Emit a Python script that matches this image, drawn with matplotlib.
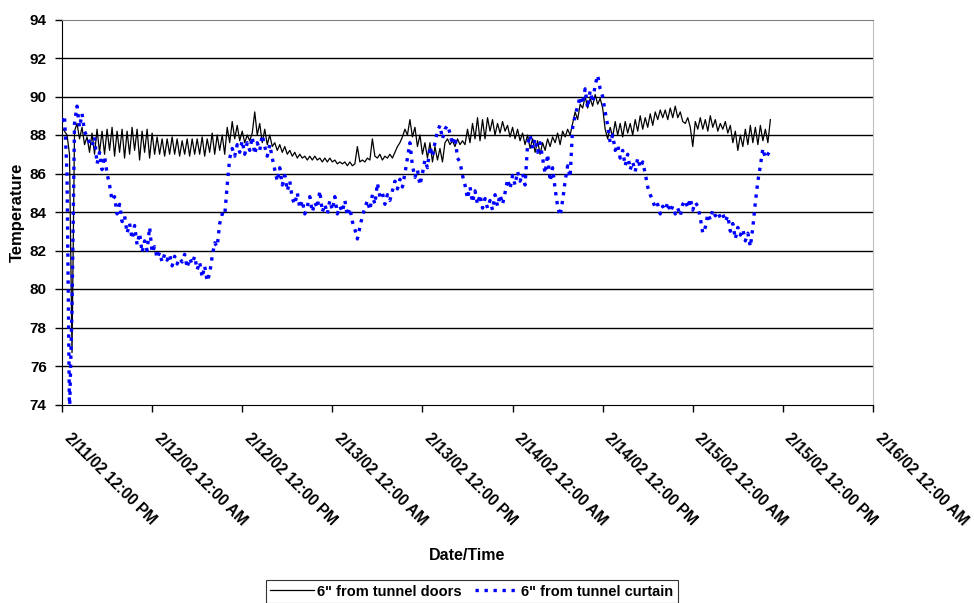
import numpy as np
import pandas as pd
import matplotlib
matplotlib.use('Agg')
import matplotlib.pyplot as plt
from matplotlib.transforms import ScaledTranslation

plt.rcParams['font.family'] = ['Liberation Sans', 'DejaVu Sans']

# readings every 20 minutes starting 2/11/02 12:00 PM (one row = one hour)
doors = [
    88.4, 88.2, 88.0,  87.0, 76.7, 88.2,  88.6, 87.8, 88.4,  87.5, 87.9, 87.1,
    88.1, 87.0, 88.3,  87.1, 88.2, 87.0,  88.3, 87.2, 88.4,  86.9, 88.2, 87.1,
    88.3, 86.8, 88.2,  87.0, 88.4, 87.2,  88.3, 86.7, 88.2,  87.1, 88.3, 86.8,
    88.1, 87.0, 87.9,  87.0, 87.8, 86.9,  87.8, 87.0, 87.9,  87.0, 87.8, 86.9,
    87.7, 87.0, 87.8,  86.9, 87.8, 87.0,  87.8, 87.0, 87.9,  86.9, 87.8, 87.1,
    88.1, 87.0, 88.0,  87.2, 88.0, 87.0,  88.4, 87.6, 88.7,  87.8, 88.5, 87.7,
    88.2, 87.6, 88.0,  87.7, 88.1, 89.2,  88.0, 88.6, 87.6,  88.3, 87.5, 88.0,
    87.4, 87.6, 87.2,  87.5, 87.1, 87.4,  87.0, 87.2, 86.9,  87.1, 86.8, 87.0,
    86.8, 86.9, 86.7,  86.9, 86.7, 86.9,  86.7, 86.8, 86.6,  86.8, 86.6, 86.8,
    86.6, 86.7, 86.5,  86.6, 86.5, 86.6,  86.4, 86.6, 86.4,  86.5, 87.4, 86.6,
    86.7, 86.6, 86.8,  86.7, 87.8, 86.9,  86.8, 87.0, 86.7,  86.9, 86.8, 87.0,
    86.8, 87.1, 87.4,  87.6, 87.9, 88.3,  88.0, 88.8, 87.9,  88.4, 87.4, 88.0,
    87.0, 87.6, 86.8,  87.6, 86.6, 87.4,  86.7, 87.3, 86.6,  87.6, 87.8, 87.5,
    87.7, 87.4, 87.8,  87.5, 87.7, 87.5,  88.3, 87.6, 88.6,  87.8, 88.9, 87.7,
    88.8, 87.8, 88.9,  88.2, 88.8, 88.0,  88.6, 88.1, 88.7,  88.2, 88.5, 87.9,
    88.4, 87.8, 88.3,  87.7, 88.1, 87.5,  88.0, 87.3, 87.8,  87.1, 87.7, 87.0,
    87.6, 87.2, 87.8,  87.4, 87.9, 87.6,  88.1, 87.5, 88.2,  87.9, 88.3, 88.0,
    88.6, 89.2, 88.8,  89.6, 89.4, 90.0,  89.4, 89.9, 89.5,  90.1, 89.6, 89.9,
    89.4, 88.3, 87.8,  88.4, 87.9, 88.7,  88.0, 88.6, 87.9,  88.7, 88.1, 88.6,
    88.0, 88.8, 88.2,  89.0, 88.3, 88.9,  88.4, 89.1, 88.5,  89.2, 88.8, 89.3,
    88.9, 89.3, 88.8,  89.4, 88.9, 89.5,  88.9, 89.2, 88.7,  88.6, 88.9, 88.4,
    87.4, 88.7, 88.3,  88.9, 88.3, 88.8,  88.2, 89.0, 88.4,  88.8, 88.2, 88.6,
    88.3, 88.7, 88.1,  88.5, 87.6, 88.2,  87.2, 88.0, 87.4,  88.3, 87.5, 88.5,
    87.6, 88.4, 87.5,  88.5, 87.7, 88.3,  87.6, 88.8,
]

curtain = [
    88.7, 89.0, 86.0,  73.5, 79.0, 88.6,  89.5, 88.4, 89.1,  88.2, 87.9, 87.6,
    87.4, 87.9, 86.5,  87.1, 86.2, 86.9,  86.0, 85.4, 84.6,  84.8, 83.9, 84.4,
    83.5, 83.8, 82.9,  83.4, 82.6, 83.3,  82.3, 82.9, 81.9,  82.5, 82.0, 83.2,
    81.9, 82.2, 81.6,  81.9, 81.4, 81.8,  81.5, 81.8, 81.2,  81.7, 81.3, 81.6,
    81.4, 81.8, 81.1,  81.6, 81.3, 81.7,  81.0, 81.4, 80.6,  81.2, 80.4, 80.8,
    81.7, 82.4, 82.2,  83.4, 83.9, 83.8,  85.4, 86.8, 87.3,  86.9, 87.5, 87.1,
    87.7, 87.0, 87.6,  87.2, 87.9, 87.0,  87.6, 87.2, 88.0,  87.4, 86.9, 87.5,
    86.8, 86.2, 85.6,  86.3, 85.4, 85.9,  85.1, 85.6, 84.7,  84.4, 85.0, 84.2,
    84.6, 83.9, 84.3,  84.8, 84.0, 84.5,  84.2, 85.1, 84.0,  84.4, 83.9, 84.6,
    84.1, 84.8, 83.9,  84.3, 84.0, 84.6,  83.8, 84.2, 83.5,  83.1, 82.6, 83.2,
    83.8, 84.2, 84.6,  84.1, 84.9, 84.4,  85.5, 84.8, 85.0,  84.4, 84.9, 84.6,
    85.1, 85.6, 85.2,  85.7, 85.3, 86.0,  86.8, 87.6, 86.4,  85.8, 86.2, 85.4,
    86.0, 86.7, 86.3,  87.4, 86.9, 87.6,  88.2, 88.5, 87.8,  88.3, 88.5, 88.1,
    87.5, 87.9, 86.8,  86.6, 85.9, 85.4,  84.7, 85.3, 84.5,  85.1, 84.4, 84.9,
    84.2, 84.7, 84.2,  84.6, 84.1, 84.9,  84.3, 84.9, 84.4,  85.0, 85.7, 85.2,
    85.9, 85.4, 86.1,  85.6, 86.0, 85.4,  87.5, 88.0, 87.3,  87.8, 87.1, 87.6,
    86.8, 86.0, 87.0,  85.6, 86.3, 85.2,  84.3, 83.8, 84.6,  85.6, 86.4, 85.8,
    88.4, 89.0, 89.5,  90.0, 89.6, 90.4,  89.4, 90.3, 89.7,  90.6, 91.1, 90.4,
    90.0, 89.2, 88.5,  87.6, 88.0, 87.2,  87.5, 86.8, 87.2,  86.4, 87.0, 86.2,
    86.6, 86.1, 86.8,  86.3, 86.6, 86.0,  85.3, 84.9, 84.6,  84.2, 84.4, 83.9,
    84.3, 84.1, 84.5,  84.0, 84.3, 83.9,  84.2, 83.8, 84.4,  84.6, 84.2, 84.7,
    84.1, 84.5, 84.3,  83.7, 82.9, 83.2,  83.9, 83.6, 84.1,  83.8, 84.0, 83.7,
    83.9, 83.5, 83.8,  83.0, 83.4, 82.6,  83.2, 82.8, 83.1,  82.5, 82.9, 82.2,
    83.2, 84.5, 85.6,  86.4, 87.3, 86.8,  87.0, 87.2,
]

times = pd.date_range('2002-02-11 12:00', periods=len(doors), freq='20min')

tick_times = pd.date_range('2002-02-11 12:00', '2002-02-16 00:00', freq='12h')
tick_labels = ['2/11/02 12:00 PM', '2/12/02 12:00 AM', '2/12/02 12:00 PM',
               '2/13/02 12:00 AM', '2/13/02 12:00 PM', '2/14/02 12:00 AM',
               '2/14/02 12:00 PM', '2/15/02 12:00 AM', '2/15/02 12:00 PM',
               '2/16/02 12:00 AM']
y_ticks = np.arange(74, 95, 2)

fig = plt.figure(figsize=(9.74, 6.03), dpi=100)
ax = fig.add_axes([62/974, 1 - 404.5/603, 811/974, 385/603])

# horizontal gridlines
for yv in y_ticks[1:-1]:
    ax.axhline(yv, color='black', lw=1, zorder=1)

ax.plot(times, doors, color='black', lw=0.9, label='6" from tunnel doors', zorder=2)
ax.plot(times, curtain, color='#0000FF', lw=2.4, linestyle=(0, (1, 1.7)),
        dash_capstyle='butt', label='6" from tunnel curtain', zorder=3)

ax.set_xlim(tick_times[0], tick_times[-1])
ax.set_ylim(74, 94)
ax.set_yticks(y_ticks)
ax.set_yticklabels([str(v) for v in y_ticks], fontsize=11, fontweight='bold')
ax.set_xticks(tick_times)
ax.set_xticklabels(tick_labels, fontsize=11.2, fontweight='bold', rotation=-45,
                   ha='left', va='top', rotation_mode='anchor')
ax.tick_params(axis='x', direction='out', length=5, width=1, pad=14)
ax.tick_params(axis='y', direction='out', length=5, width=1, pad=6)
for lab in ax.get_xticklabels():
    lab.set_transform(lab.get_transform() + ScaledTranslation(0.1, 0, fig.dpi_scale_trans))

ax.spines['left'].set_color('black')
ax.spines['bottom'].set_color('black')
ax.spines['top'].set_color('#808080')
ax.spines['right'].set_color('#c0c0c0')

ax.set_ylabel('Temperature', fontsize=12, fontweight='bold')
ax.yaxis.set_label_coords((25 - 62) / 811, 0.5)
fig.text(467.5/974, 1 - 555/603, 'Date/Time', fontsize=11.5, fontweight='bold',
         ha='center', va='center')

leg = fig.legend(loc='lower center', bbox_to_anchor=(472/974, -0.012), ncol=2,
                 frameon=True, fancybox=False, edgecolor='black',
                 prop={'weight': 'bold', 'size': 10.5}, handlelength=3.0,
                 handletextpad=0.2, columnspacing=0.9, borderpad=0.3)
leg.get_frame().set_linewidth(0.8)

fig.savefig('out.png', dpi=100)
